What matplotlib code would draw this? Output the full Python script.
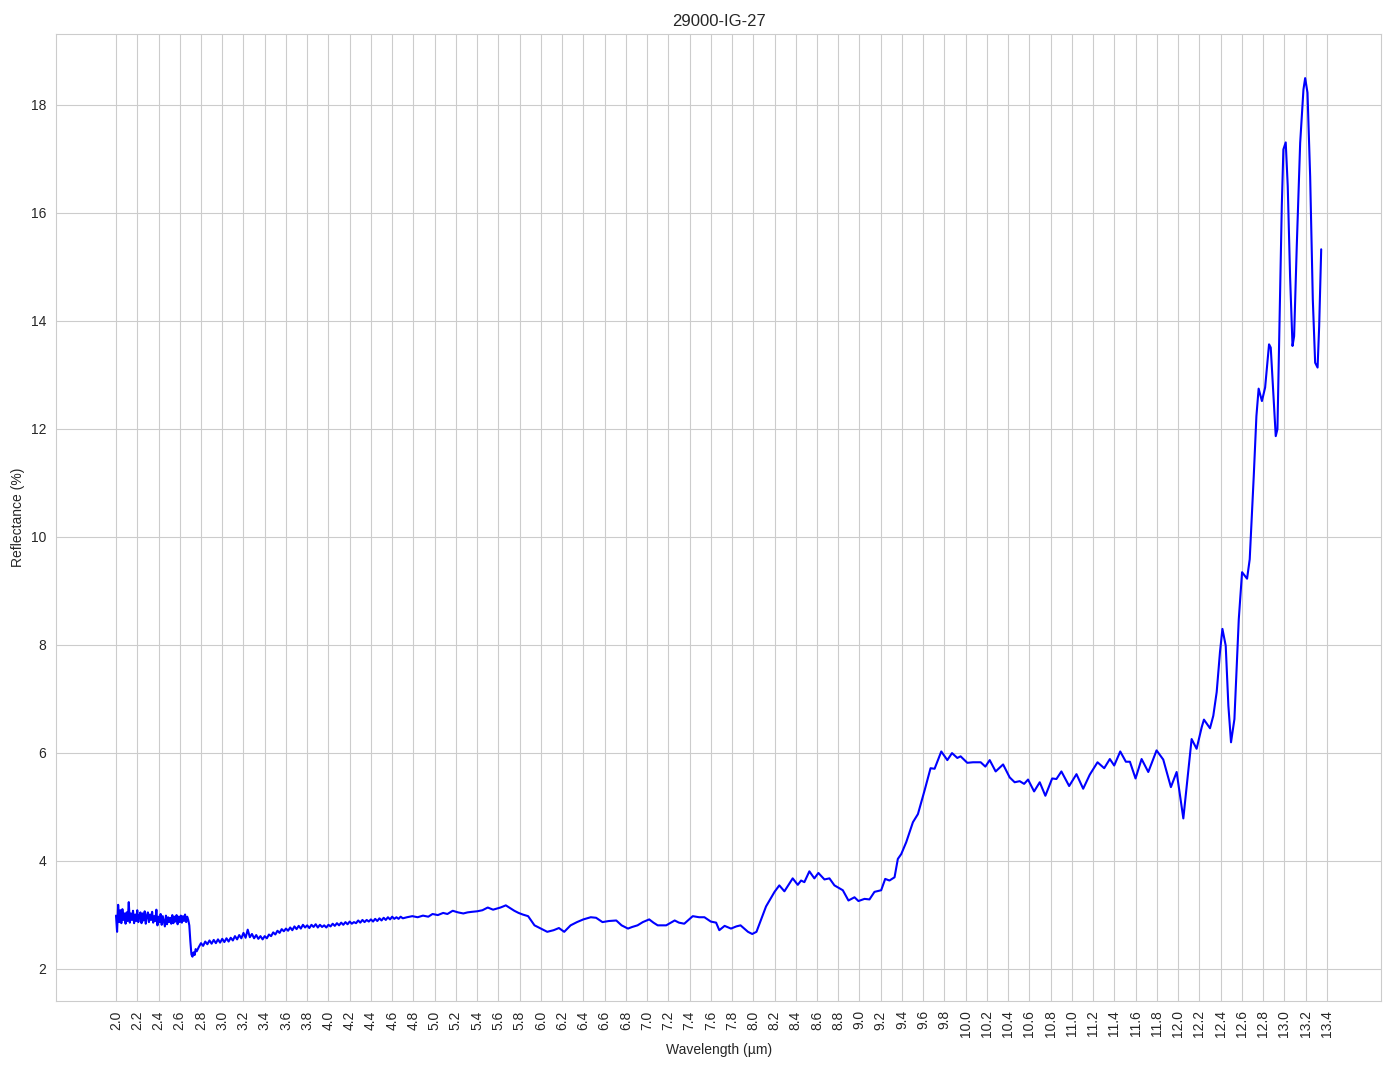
import numpy as np
import matplotlib
matplotlib.use("Agg")
import matplotlib.pyplot as plt
import seaborn as sns

# --- данные спектра ---

# шумный участок 2.00-2.68 мкм, шаг 0.01
wl_a = np.linspace(2.00, 2.68, 69)
refl_a = [
    2.98, 2.68, 3.18, 2.86, 3.08, 2.84, 3.10, 2.90, 3.02, 2.83,
    3.04, 2.88, 3.23, 2.85, 3.02, 2.90, 3.07, 2.84, 3.00, 2.88,
    3.08, 2.86, 2.98, 3.04, 2.84, 3.02, 2.89, 3.06, 2.83, 2.98,
    3.04, 2.86, 3.00, 2.90, 3.05, 2.85, 2.97, 2.88, 3.09, 2.80,
    2.96, 2.86, 3.01, 2.81, 2.97, 2.87, 2.78, 2.98, 2.82, 2.95,
    2.86, 2.94, 2.83, 2.99, 2.84, 2.96, 2.87, 2.99, 2.82, 2.96,
    2.86, 2.98, 2.85, 2.97, 2.88, 3.00, 2.86, 2.96, 2.90,
]

# провал около 2.7 мкм
wl_b = [2.69, 2.70, 2.71, 2.72, 2.73, 2.74, 2.75, 2.76]
refl_b = [2.80, 2.50, 2.26, 2.22, 2.30, 2.25, 2.36, 2.32]

# медленный рост 2.78-4.70 мкм, шаг 0.02
wl_c = np.linspace(2.78, 4.70, 97)
refl_c = [
    2.40, 2.47, 2.42, 2.50, 2.45, 2.52, 2.46, 2.53, 2.47, 2.54,
    2.48, 2.55, 2.49, 2.56, 2.50, 2.57, 2.52, 2.60, 2.54, 2.62,
    2.56, 2.66, 2.57, 2.72, 2.58, 2.64, 2.56, 2.62, 2.55, 2.60,
    2.54, 2.60, 2.56, 2.63, 2.60, 2.67, 2.63, 2.70, 2.66, 2.73,
    2.69, 2.74, 2.70, 2.76, 2.71, 2.78, 2.73, 2.79, 2.74, 2.81,
    2.76, 2.80, 2.75, 2.81, 2.77, 2.82, 2.76, 2.81, 2.77, 2.80,
    2.76, 2.81, 2.78, 2.83, 2.79, 2.84, 2.80, 2.85, 2.81, 2.86,
    2.82, 2.87, 2.83, 2.86, 2.84, 2.89, 2.85, 2.90, 2.86, 2.90,
    2.87, 2.91, 2.87, 2.92, 2.88, 2.93, 2.89, 2.94, 2.90, 2.95,
    2.91, 2.96, 2.92, 2.95, 2.92, 2.96, 2.93,
]

# 4.7-8.2 мкм
wl_d = [
    4.74, 4.79, 4.84, 4.89, 4.94, 4.98, 5.03, 5.08, 5.12, 5.17,
    5.22, 5.27, 5.31, 5.35, 5.40, 5.45, 5.50, 5.55, 5.62, 5.67,
    5.71, 5.75, 5.79, 5.83, 5.88, 5.94, 6.00, 6.06, 6.12, 6.17,
    6.22, 6.28, 6.34, 6.40, 6.47, 6.52, 6.58, 6.64, 6.71, 6.76,
    6.82, 6.86, 6.91, 6.96, 7.02, 7.06, 7.10, 7.18, 7.26, 7.30,
    7.35, 7.43, 7.49, 7.54, 7.60, 7.65, 7.68, 7.73, 7.79, 7.84,
    7.88, 7.95, 7.99, 8.03, 8.07, 8.12, 8.20,
]
refl_d = [
    2.95, 2.97, 2.95, 2.98, 2.96, 3.01, 2.99, 3.03, 3.01, 3.07,
    3.04, 3.02, 3.04, 3.05, 3.06, 3.08, 3.13, 3.09, 3.13, 3.17,
    3.12, 3.07, 3.03, 3.00, 2.97, 2.80, 2.74, 2.68, 2.71, 2.75,
    2.68, 2.80, 2.86, 2.91, 2.95, 2.94, 2.86, 2.88, 2.89, 2.80,
    2.74, 2.77, 2.80, 2.86, 2.91, 2.85, 2.80, 2.80, 2.89, 2.85,
    2.83, 2.97, 2.95, 2.95, 2.87, 2.85, 2.71, 2.79, 2.74, 2.78,
    2.80, 2.68, 2.64, 2.68, 2.89, 3.15, 3.42,
]

# 8.2-13.35 мкм
wl_e = [
    8.245, 8.293, 8.371, 8.419, 8.450, 8.481, 8.528, 8.575, 8.613, 8.670,
    8.717, 8.764, 8.843, 8.896, 8.953, 8.990, 9.047, 9.094, 9.141, 9.204,
    9.242, 9.282, 9.330, 9.361, 9.393, 9.440, 9.503, 9.550, 9.613, 9.669,
    9.707, 9.770, 9.827, 9.871, 9.921, 9.952, 10.015, 10.069, 10.141, 10.185,
    10.226, 10.282, 10.352, 10.414, 10.461, 10.508, 10.550, 10.587, 10.644, 10.697,
    10.750, 10.814, 10.854, 10.901, 10.974, 11.043, 11.106, 11.168, 11.241, 11.304,
    11.357, 11.398, 11.455, 11.508, 11.546, 11.599, 11.656, 11.719, 11.797, 11.860,
    11.932, 11.986, 12.049, 12.127, 12.174, 12.222, 12.243, 12.300, 12.331, 12.363,
    12.394, 12.417, 12.448, 12.473, 12.498, 12.530, 12.571, 12.602, 12.649, 12.674,
    12.712, 12.737, 12.758, 12.789, 12.819, 12.856, 12.872, 12.919, 12.935, 12.976,
    12.991, 13.013, 13.032, 13.054, 13.077, 13.092, 13.117, 13.149, 13.180, 13.196,
    13.218, 13.243, 13.268, 13.290, 13.313, 13.328, 13.347,
]
refl_e = [
    3.54, 3.43, 3.67, 3.55, 3.63, 3.60, 3.80, 3.67, 3.77, 3.65,
    3.67, 3.54, 3.45, 3.26, 3.32, 3.25, 3.29, 3.28, 3.42, 3.45,
    3.66, 3.63, 3.69, 4.03, 4.12, 4.34, 4.71, 4.86, 5.30, 5.71,
    5.70, 6.02, 5.86, 5.99, 5.90, 5.93, 5.81, 5.82, 5.82, 5.74,
    5.86, 5.65, 5.78, 5.54, 5.45, 5.47, 5.42, 5.50, 5.28, 5.45,
    5.20, 5.52, 5.51, 5.65, 5.38, 5.60, 5.33, 5.59, 5.82, 5.71,
    5.88, 5.76, 6.02, 5.83, 5.83, 5.52, 5.88, 5.64, 6.04, 5.87,
    5.36, 5.64, 4.78, 6.25, 6.07, 6.47, 6.61, 6.45, 6.68, 7.12,
    7.86, 8.29, 7.98, 6.87, 6.19, 6.62, 8.47, 9.34, 9.22, 9.58,
    11.12, 12.23, 12.74, 12.51, 12.76, 13.56, 13.50, 11.86, 11.99, 16.12,
    17.17, 17.30, 16.49, 14.82, 13.53, 13.71, 15.38, 17.29, 18.28, 18.49,
    18.22, 16.67, 14.39, 13.22, 13.13, 13.90, 15.32,
]

title = "29000-IG-27"
x_ticks = np.round(np.arange(2.0, 13.41, 0.2), 1)

wavelength = np.concatenate([wl_a, wl_b, wl_c, wl_d, wl_e])
reflectance = np.concatenate([refl_a, refl_b, refl_c, refl_d, refl_e])

sns.set_style("whitegrid")
plt.rcParams['font.family'] = ['Liberation Sans', 'DejaVu Sans']

fig, ax = plt.subplots(figsize=(13.94, 10.69), dpi=100)
ax.plot(wavelength, reflectance, color='blue', linewidth=1.5)

ax.set_xticks(x_ticks)
ax.set_xticklabels([f"{t:.1f}" for t in x_ticks], rotation=90)
ax.set_xlabel("Wavelength (µm)")
ax.set_ylabel("Reflectance (%)")
ax.set_title(title)

# поля подогнаны под оригинал
fig.subplots_adjust(left=0.040, right=0.991, top=0.968, bottom=0.064)
fig.savefig("out.png", dpi=100)
